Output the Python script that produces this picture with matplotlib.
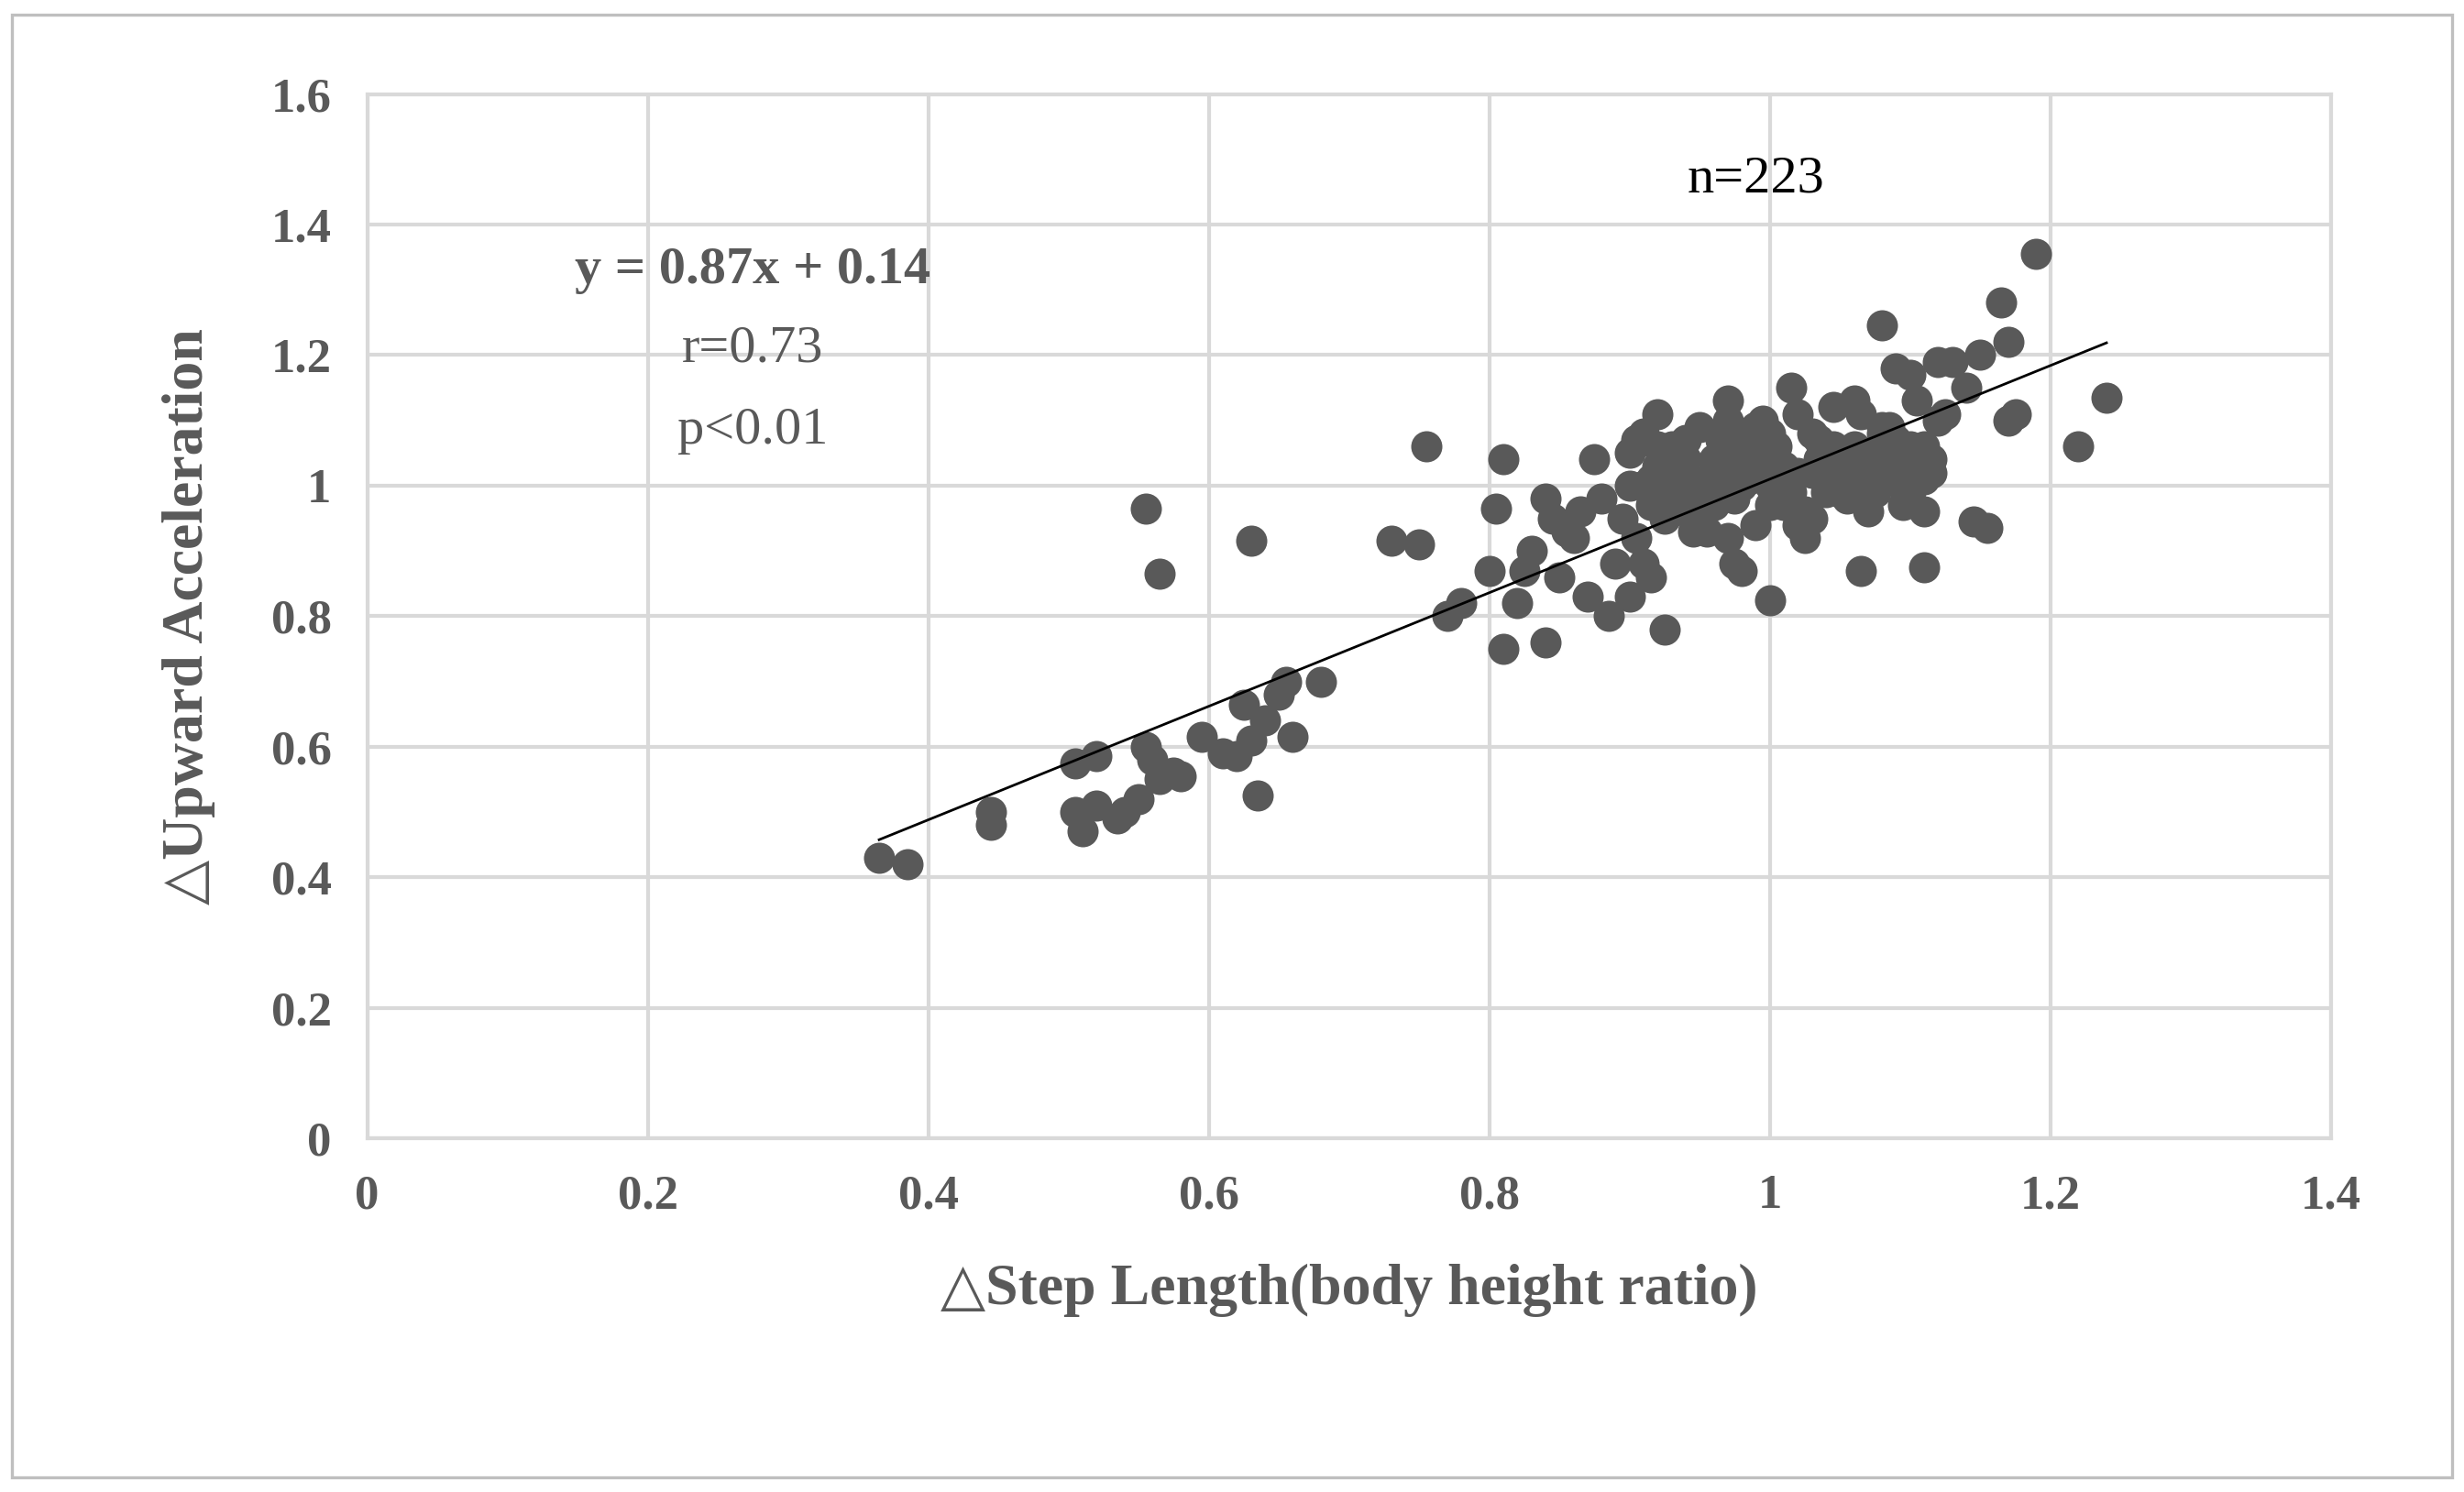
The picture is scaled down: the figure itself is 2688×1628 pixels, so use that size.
import matplotlib
matplotlib.use("Agg")
import matplotlib.pyplot as plt
from matplotlib.patches import Rectangle

x_vals = [0.365,0.385,0.445,0.445,0.505,0.52,0.505,0.51,0.52,0.535,0.54,0.55,0.555,0.56,0.565,0.575,0.58,
          0.555,0.565,0.595,0.61,0.62,0.625,0.63,0.635,0.64,0.65,0.655,0.66,0.68,0.63,0.73,0.75,0.755,0.77,0.78,
          0.80,0.805,0.81,0.81,0.82,0.825,0.83,0.84,0.84,0.845,0.85,0.855,0.86,0.865,0.87,0.875,0.88,0.885,0.89,
          0.895,0.90,0.905,0.91,0.915,0.92,0.925,0.93,
          0.90,0.905,0.91,0.915,0.92,0.925,0.93,0.935,0.94,0.945,0.95,0.955,0.96,0.965,0.97,0.975,0.98,0.985,0.99,0.995,
          1.00,1.005,1.01,1.015,1.02,1.025,1.03,1.035,1.04,1.045,1.05,1.055,1.06,1.065,1.07,1.075,1.08,1.085,1.09,1.095,
          1.10,1.105,1.11,1.115,1.12,
          0.91,0.92,0.93,0.94,0.95,0.96,0.97,0.98,0.99,1.00,1.01,1.02,1.03,1.04,1.05,1.06,1.07,1.08,1.09,1.10,1.11,
          0.915,0.935,0.955,0.975,0.995,1.015,1.035,1.055,1.075,1.095,1.115,1.125,
          0.90,0.92,0.94,0.96,0.98,1.00,1.02,1.04,1.06,1.08,1.10,
          0.945,0.965,0.985,1.005,1.025,1.045,1.065,1.085,
          0.93,0.95,0.97,0.99,1.01,1.03,1.05,1.07,
          1.08,1.09,1.10,1.12,1.13,1.14,1.15,1.165,1.17,1.17,1.175,1.19,1.22,1.24,1.145,1.155,1.11,1.065,1.00,1.11,
          0.98,0.975]
y_vals = [0.43,0.42,0.50,0.48,0.575,0.585,0.50,0.47,0.51,0.49,0.50,0.52,0.60,0.58,0.55,0.56,0.555,
          0.965,0.865,0.615,0.59,0.585,0.665,0.61,0.525,0.64,0.68,0.70,0.615,0.70,0.915,0.915,0.91,1.06,0.80,0.82,
          0.87,0.965,1.04,0.75,0.82,0.87,0.90,0.76,0.98,0.95,0.86,0.93,0.92,0.96,0.83,1.04,0.98,0.80,0.88,
          0.95,0.83,1.07,1.00,0.86,1.11,0.78,0.96,
          1.05,0.92,1.08,0.97,1.02,0.95,1.06,0.99,1.04,0.93,1.09,1.01,0.97,1.05,1.13,0.98,1.07,1.03,0.94,1.10,
          1.00,1.06,0.97,1.15,1.02,0.92,1.08,1.04,0.99,1.12,1.03,0.98,1.06,1.11,1.01,1.05,1.09,1.03,1.07,1.00,
          1.04,1.13,1.06,1.02,1.10,
          0.88,1.03,0.99,1.07,0.96,1.04,0.92,1.00,1.09,0.97,1.03,1.11,0.95,1.06,1.00,1.04,0.96,1.08,1.02,1.06,1.01,
          1.01,1.05,0.93,1.02,1.05,0.99,1.07,1.03,0.99,0.97,1.04,1.11,
          1.00,1.06,1.02,0.99,1.04,1.08,0.94,1.01,1.13,1.05,0.99,
          0.97,1.07,1.01,1.03,0.96,1.06,1.00,1.09,
          1.04,0.98,1.10,1.05,0.98,1.02,0.99,1.04,
          1.245,1.18,1.17,1.19,1.19,1.15,1.20,1.28,1.22,1.10,1.11,1.355,1.06,1.135,0.945,0.935,0.875,0.87,0.825,0.96,
          0.87,0.88]
slope, intercept = 0.87, 0.14
fit_x = [0.365, 1.24]

x_ticks = [0, 0.2, 0.4, 0.6, 0.8, 1, 1.2, 1.4]
y_ticks = [0, 0.2, 0.4, 0.6, 0.8, 1, 1.2, 1.4, 1.6]

plt.rcParams["font.family"] = ["Liberation Serif", "DejaVu Sans"]
gray = "#595959"
fig = plt.figure(figsize=(13.44, 8.14), dpi=200)
fig.patches.append(Rectangle((0.005, 0.01), 0.99, 0.98, transform=fig.transFigure,
                             fill=False, edgecolor="#bfbfbf", linewidth=1.2))
ax = fig.add_axes([0.149, 0.237, 0.797, 0.700])
ax.scatter(x_vals, y_vals, s=150, color=gray, zorder=3, linewidths=0)
ax.plot(fit_x, [slope * v + intercept for v in fit_x], color="black", linewidth=1, zorder=4)
ax.set_xlim(0, 1.4)
ax.set_ylim(0, 1.6)
ax.set_xticks(x_ticks)
ax.set_yticks(y_ticks)
ax.set_xticklabels([f"{t:g}" for t in x_ticks])
ax.set_yticklabels([f"{t:g}" for t in y_ticks])
ax.grid(True, color="#d9d9d9", linewidth=1.5)
ax.set_axisbelow(True)
for s in ax.spines.values():
    s.set_color("#d9d9d9"); s.set_linewidth(1.5)
ax.tick_params(length=0, labelsize=19, labelcolor=gray, pad=14)
for lab in ax.get_xticklabels() + ax.get_yticklabels():
    lab.set_fontweight("bold")
ax.set_xlabel("△Step Length(body height ratio)", fontsize=23, color=gray, fontweight="bold", labelpad=18)
ax.set_ylabel("△Upward Acceleration", fontsize=23, color=gray, fontweight="bold", labelpad=22)
ax.text(0.275, 1.31, "y = 0.87x + 0.14", fontsize=21, color=gray, fontweight="bold", ha="center")
ax.text(0.275, 1.19, "r=0.73", fontsize=21, color=gray, ha="center")
ax.text(0.275, 1.065, "p<0.01", fontsize=21, color=gray, ha="center")
ax.text(0.99, 1.45, "n=223", fontsize=21, color="black", ha="center")
fig.savefig("out.png", dpi=200)
